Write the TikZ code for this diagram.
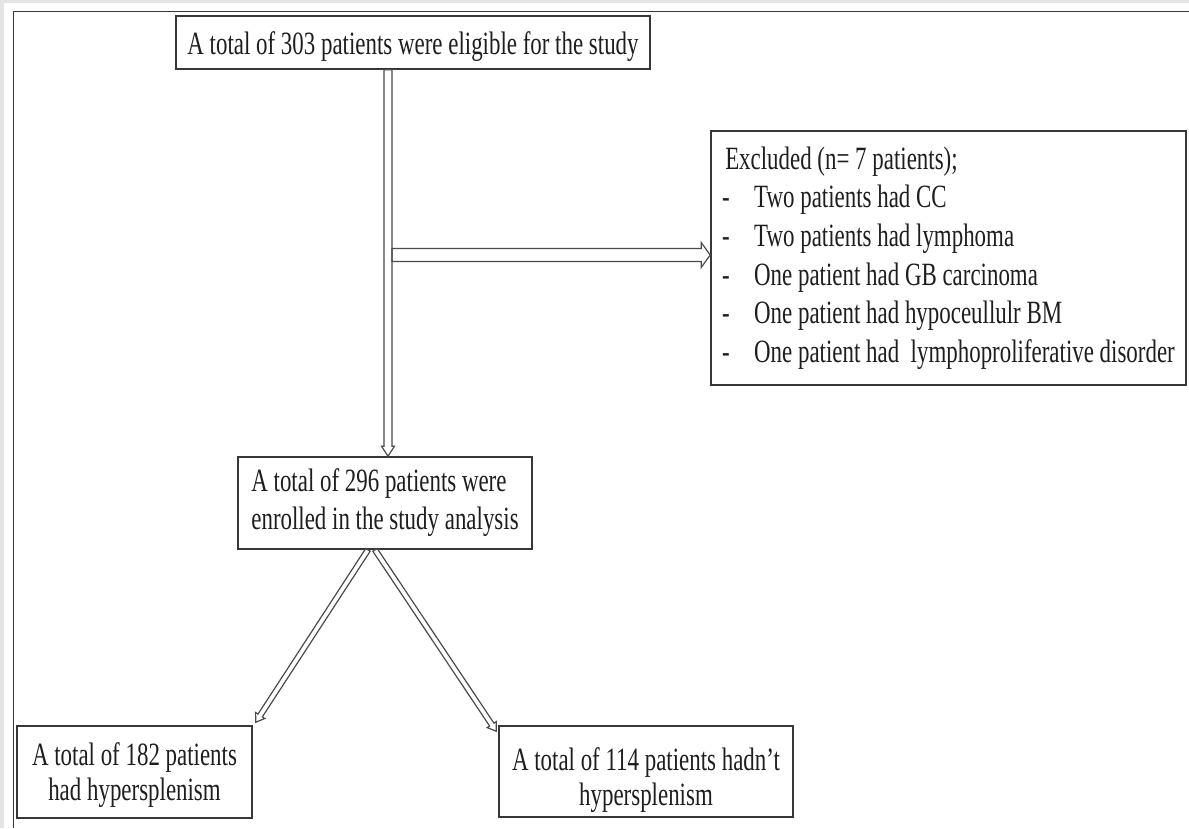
\documentclass[tikz,border=0pt]{standalone}
\usepackage{fontspec}
\setmainfont{Liberation Serif}
\usetikzlibrary{calc}
\definecolor{bggray}{RGB}{228,228,228}
\definecolor{boxline}{RGB}{55,55,55}
\definecolor{arrline}{RGB}{75,75,75}
\definecolor{txt}{RGB}{30,30,30}
\newcommand\sx[1]{\scalebox{0.705}[1]{#1}}
\newcommand\dashitem{\makebox[45.4pt][l]{-}}
\newcommand\blockarr[5]{%
  \path coordinate (hb) at ($(#2)!#5!(#1)$);
  \draw[arrowln] ($(#1)!#3!90:(#2)$) -- ($(hb)!#3!90:(#2)$) -- ($(hb)!#4!90:(#2)$) -- (#2)
     -- ($(hb)!#4!-90:(#2)$) -- ($(hb)!#3!-90:(#2)$) -- ($(#1)!#3!-90:(#2)$) -- cycle;}
\begin{document}
\begin{tikzpicture}[x=1pt,y=-1pt,
  box/.style={draw=boxline, line width=1.6pt, text=txt, inner xsep=0pt, inner ysep=0pt,
    font=\fontsize{32.5}{38.6}\selectfont},
  arrowln/.style={draw=arrline, line width=1.2pt, line join=miter}]
\useasboundingbox (0,0) rectangle (1189,828);
\fill[bggray] (0,0) rectangle (1189,828);
\fill[white] (4,3) rectangle (1189,828);
\draw[boxline, line width=1.6pt] (13.5,828) -- (13.5,11.5) -- (1189,11.5);

\node[box, minimum width=474pt, minimum height=53pt]
  (top) at (413,42.5) {\sx{\rule{0pt}{32pt}A total of 303 patients were eligible for the study}};

\node[box, minimum width=475pt, minimum height=254pt]
  (excl) at (948.5,258) {\sx{\begin{tabular}{@{}l@{}}
  \hspace*{4.3pt}Excluded (n= 7 patients);\\
  \dashitem Two patients had CC\\
  \dashitem Two patients had lymphoma\\
  \dashitem One patient had GB carcinoma\\
  \dashitem One patient had hypoceullulr BM\\
  \dashitem One patient had~ lymphoproliferative disorder\end{tabular}}};

\node[box, minimum width=294pt, minimum height=92pt, font=\fontsize{32.5}{38.5}\selectfont]
  (enr) at (385,503) {\sx{\begin{tabular}{@{}l@{}}A total of 296 patients were\\enrolled in the study analysis\end{tabular}}};

\node[box, minimum width=235pt, minimum height=92pt, font=\fontsize{32.5}{35}\selectfont]
  (left) at (134.5,772) {\sx{\begin{tabular}{@{}c@{}}\rule{0pt}{31.5pt}A total of 182 patients\\had hypersplenism\end{tabular}}};

\node[box, minimum width=294pt, minimum height=91pt, font=\fontsize{32.5}{35}\selectfont]
  (right) at (646,771.5) {\sx{\begin{tabular}{@{}c@{}}\rule{0pt}{44pt}A total of 114 patients hadn’t\\hypersplenism\end{tabular}}};

\coordinate (vtop) at ([xshift=-25pt]top.south);
\coordinate (vbot) at ([xshift=3pt]enr.north);
\coordinate (he) at ([yshift=3pt]excl.west);
\coordinate (hs) at ([xshift=4pt]vtop |- he);
\coordinate (d1s) at ([xshift=-17pt]enr.south);
\coordinate (d1e) at ([shift={(3pt,3pt)}]left.north east);
\coordinate (d2s) at ([xshift=-10pt]enr.south);
\coordinate (d2e) at ([shift={(-2pt,-6pt)}]right.north west);

\blockarr{vtop}{vbot}{4pt}{6.5pt}{10pt}
\blockarr{hs}{he}{6.5pt}{12.5pt}{9pt}
\blockarr{d1s}{d1e}{2.6pt}{5.5pt}{8pt}
\blockarr{d2s}{d2e}{2.6pt}{5.5pt}{8pt}
\end{tikzpicture}
\end{document}
